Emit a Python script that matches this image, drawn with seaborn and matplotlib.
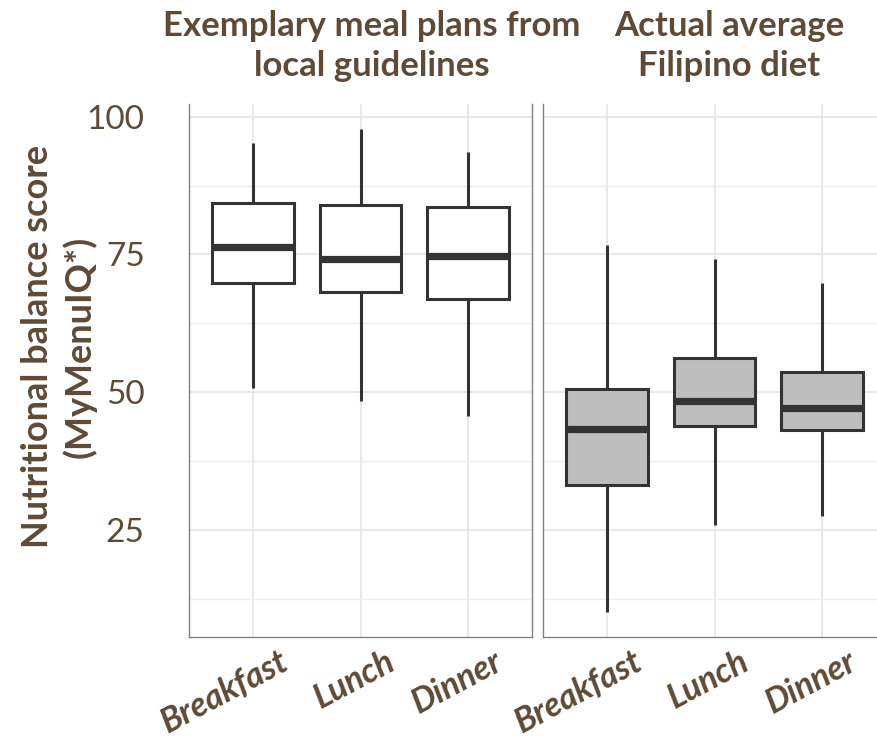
import numpy as np
import pandas as pd
import matplotlib
matplotlib.use("Agg")
import matplotlib.pyplot as plt
import matplotlib.transforms as mtransforms
from matplotlib.ticker import FixedLocator
import seaborn as sns

# ---- data: five-number summaries (whisker low, Q1, median, Q3, whisker high) ----
meals = ["Breakfast", "Lunch", "Dinner"]
panel_titles = ["Exemplary meal plans from\nlocal guidelines",
                "Actual average\nFilipino diet"]

guide_low = [50.7, 48.5, 45.7]
guide_q1 = [69.9, 68.2, 67.0]
guide_median = [76.3, 74.2, 74.8]
guide_q3 = [84.3, 83.9, 83.7]
guide_high = [95.2, 97.7, 93.5]

actual_low = [10.1, 25.9, 27.6]
actual_q1 = [33.1, 43.9, 43.1]
actual_median = [43.3, 48.4, 47.2]
actual_q3 = [50.6, 56.2, 53.7]
actual_high = [76.7, 74.2, 69.8]

y_ticks = [25, 50, 75, 100]
y_minor = [12.5, 37.5, 62.5, 87.5]


def long_table(low, q1, med, q3, high):
    rows = []
    for i, meal in enumerate(meals):
        for v in (low[i], q1[i], med[i], q3[i], high[i]):
            rows.append({"meal": meal, "score": v})
    return pd.DataFrame(rows)


guide_df = long_table(guide_low, guide_q1, guide_median, guide_q3, guide_high)
actual_df = long_table(actual_low, actual_q1, actual_median, actual_q3, actual_high)

# ---- styling ----
sns.set_style("white")
FONT = ["Lato", "DejaVu Sans"]
plt.rcParams["font.family"] = FONT
TEXT = "#5e4a36"
LINE = "#333333"
FRAME = "#808080"
GRID = "#e6e6e6"

W, H = 877, 742
fig = plt.figure(figsize=(W / 100, H / 100), dpi=100)


def px_axes(x0, x1, y0, y1):
    return fig.add_axes([x0 / W, 1 - y1 / H, (x1 - x0) / W, (y1 - y0) / H])


ax_l = px_axes(189, 532, 104, 637)
ax_r = px_axes(543, 886, 104, 637)

panels = [(ax_l, guide_df, "white"), (ax_r, actual_df, "#bebebe")]

for ax, df, fill in panels:
    sns.boxplot(data=df, x="meal", y="score", order=meals, ax=ax,
                whis=(0, 100), width=0.765, color=fill, saturation=1,
                linecolor=LINE, linewidth=2.2, showcaps=False, fliersize=0,
                medianprops=dict(color=LINE, linewidth=5.2),
                zorder=3)
    ax.set_xlim(-0.6, 2.6)
    ax.set_ylim(5.59, 102.3)
    ax.set_xlabel("")
    ax.set_ylabel("")
    ax.yaxis.set_major_locator(FixedLocator(y_ticks))
    ax.yaxis.set_minor_locator(FixedLocator(y_minor))
    ax.set_axisbelow(True)
    ax.grid(True, which="major", color=GRID, linewidth=1.3)
    ax.grid(True, which="minor", axis="y", color="#efefef", linewidth=1.0)
    ax.tick_params(which="minor", length=0)
    ax.spines["top"].set_visible(False)
    for s in ("left", "right", "bottom"):
        ax.spines[s].set_color(FRAME)
        ax.spines[s].set_linewidth(1.0)
    ax.tick_params(axis="x", direction="out", length=4, width=1.0,
                   color=FRAME, pad=2)
    ax.set_xticks(range(len(meals)))
    ax.set_xticklabels(meals, rotation=28, ha="right", color=TEXT,
                       fontsize=24.5, fontweight="bold", fontstyle="italic")
    offset = mtransforms.ScaledTranslation(40 / 100, 0, fig.dpi_scale_trans)
    for lab in ax.get_xticklabels():
        lab.set_transform(lab.get_transform() + offset)

ax_l.tick_params(axis="y", direction="out", length=4, width=1.0,
                 color=FRAME, pad=28, labelsize=24, labelcolor=TEXT)
ax_r.tick_params(axis="y", length=0, labelleft=False)

# panel titles
fig.text(372 / W, 1 - 10 / H, panel_titles[0], ha="center", va="top",
         fontsize=25, fontweight="bold", color=TEXT, linespacing=1.3)
fig.text(729 / W, 1 - 10 / H, panel_titles[1], ha="center", va="top",
         fontsize=25, fontweight="bold", color=TEXT, linespacing=1.3)

# shared y-axis title
fig.text(59 / W, 1 - 347 / H, "Nutritional balance score\n(MyMenuIQ*)",
         rotation=90, ha="center", va="center", multialignment="center",
         fontsize=26, fontweight="bold", color=TEXT, linespacing=1.3)

fig.savefig("out.png", dpi=100)
